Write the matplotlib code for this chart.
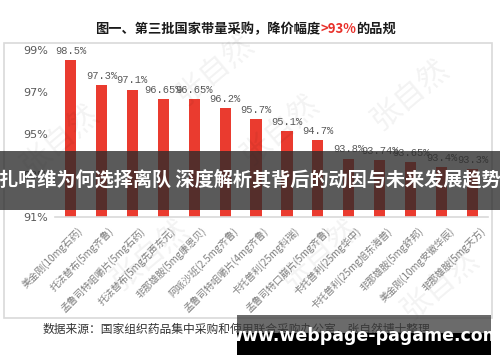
import matplotlib
matplotlib.use("Agg")
import matplotlib.pyplot as plt
from matplotlib.patches import Rectangle

plt.rcParams['font.family'] = ['Noto Sans CJK SC', 'DejaVu Sans']

categories = ["美金刚(10mg石药)", "托法替布(5mg齐鲁)", "孟鲁司特咀嚼片(5mg石药)",
              "托法替布(5mg先声东元)", "非那雄胺(5mg康恩贝)", "阿哌沙班(2.5mg齐鲁)",
              "孟鲁司特咀嚼片(4mg齐鲁)", "卡托普利(25mg科瑞)", "孟鲁司特口崩片(5mg齐鲁)",
              "卡托普利(25mg华中)", "卡托普利(25mg旭东海普)", "非那雄胺(5mg舒邦)",
              "美金刚(10mg安徽华辰)", "非那雄胺(5mg天方)"]
values = [98.5, 97.3, 97.1, 96.65, 96.65, 96.2, 95.7, 95.1, 94.7, 93.8, 93.74, 93.65, 93.4, 93.3]
value_labels = ["98.5%", "97.3%", "97.1%", "96.65%", "96.65%", "96.2%", "95.7%", "95.1%",
                "94.7%", "93.8%", "93.74%", "93.65%", "93.4%", "93.3%"]
yticks = [91, 93, 95, 97, 99]
ytick_labels = ["91%", "93%", "95%", "97%", "99%"]

W, H = 500, 362
fig = plt.figure(figsize=(W / 100, H / 100), dpi=100)
fig.patch.set_facecolor('white')

def fx(px): return px / W
def fy(py): return 1 - py / H

# outer frame
fig.patches.append(Rectangle((fx(4), fy(318)), fx(492) - fx(4), fy(43) - fy(318),
                             transform=fig.transFigure, fill=False, edgecolor='#d9d9d9', lw=1.2))

ax = fig.add_axes([fx(55), fy(217), fx(488) - fx(55), fy(50) - fy(217)])
x = list(range(len(values)))
ax.bar(x, [v - 91 for v in values], bottom=91, width=0.36, color='#EA3B2F', zorder=2)
ax.set_xlim(-0.5, len(values) - 0.5)
ax.set_ylim(91, 99)
ax.set_yticks(yticks)
ax.set_yticklabels(ytick_labels, fontsize=8, color='#595959', family=['DejaVu Sans'])
ax.tick_params(axis='y', length=0, pad=5)
ax.set_xticks([])
for s in ['top', 'right', 'left']:
    ax.spines[s].set_visible(False)
ax.spines['bottom'].set_color('#d9d9d9')
ax.spines['bottom'].set_linewidth(1.2)
ax.patch.set_alpha(0)

for xi, v, lab in zip(x, values, value_labels):
    ax.annotate(lab, (xi, v), xytext=(0, 3), textcoords='offset points', ha='center', va='bottom',
                fontsize=7.5, color='#595959', family=['Liberation Mono'], clip_on=False)

for xi, cat in zip(x, categories):
    ax.annotate(cat, (xi, 91), xytext=(5, -6), textcoords='offset points', ha='right', va='top',
                rotation=45, rotation_mode='anchor', fontsize=7, color='#7f7f7f')

# title with coloured part
t1 = fig.text(fx(95), fy(33), "图一、第三批国家带量采购，降价幅度", fontsize=9.5, fontweight='bold',
              color='#1a1a1a', ha='left', va='baseline')
t2 = fig.text(0, 0, ">93%", fontsize=9.5, fontweight='bold', color='#E8302A', ha='left', va='baseline')
t3 = fig.text(0, 0, "的品规", fontsize=9.5, fontweight='bold', color='#1a1a1a', ha='left', va='baseline')
fig.canvas.draw()
r = fig.canvas.get_renderer()
bb = t1.get_window_extent(r)
t2.set_position((bb.x1 / W, fy(33)))
fig.canvas.draw()
bb2 = t2.get_window_extent(r)
t3.set_position((bb2.x1 / W, fy(33)))

# watermarks
for (px, py) in [(60, 140), (150, 255), (280, 130), (215, 70), (410, 95), (320, 255), (440, 285)]:
    fig.text(fx(px), fy(py), "张自然", fontsize=22, color='#000000', alpha=0.05, rotation=40,
             ha='center', va='center')

# source
fig.text(fx(43), fy(333), "数据来源：国家组织药品集中采购和使用联合采购办公室，张自然博士整理",
         fontsize=8.5, color='#333333', ha='left', va='baseline')

# banner
fig.patches.append(Rectangle((0, fy(210)), 1, fy(151) - fy(210), transform=fig.transFigure,
                             facecolor='#2b2b2b', alpha=0.78, edgecolor='none', zorder=10))
fig.text(0.5, fy(181), "扎哈维为何选择离队 深度解析其背后的动因与未来发展趋势", fontsize=13.8,
         fontweight='bold', color='white', ha='center', va='center', zorder=11)

# bottom site box
fig.patches.append(Rectangle((fx(237), fy(333)), fx(491) - fx(237), fy(315) - fy(333),
                             transform=fig.transFigure, facecolor='#3a3a3a', alpha=0.75,
                             edgecolor='none', zorder=10))
fig.patches.append(Rectangle((fx(237), fy(355)), fx(491) - fx(237), fy(333) - fy(355),
                             transform=fig.transFigure, facecolor='black', edgecolor='none', zorder=10))
fig.text(fx(364), fy(336), "www.webpage-pagame.com", fontsize=12.5, fontweight='bold',
         color='white', ha='center', va='center', family=['DejaVu Sans'], zorder=11)

fig.savefig("out.png", dpi=100)
